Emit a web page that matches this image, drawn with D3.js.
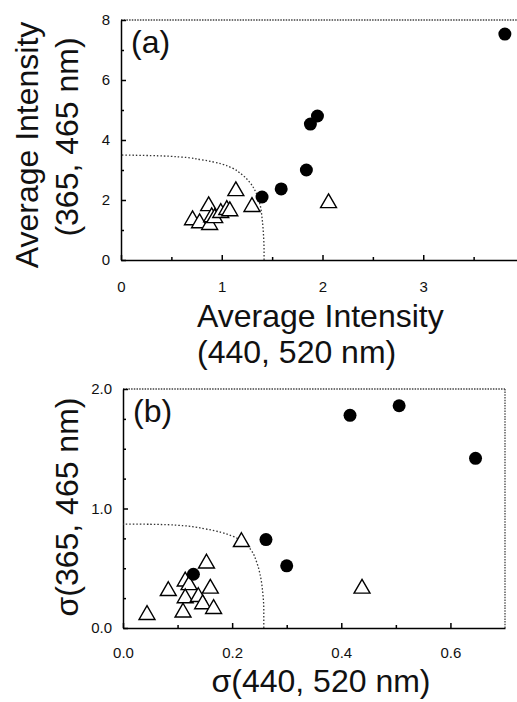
<!DOCTYPE html>
<meta charset="utf-8">
<style>
  body { margin: 0; background: #fff; }
  svg { font-family: Arial, "Liberation Sans", sans-serif; }
  .axis path, .axis line { stroke: #000; stroke-width: 1.5px; }
  .axis text { font-size: 15px; fill: #111; }
  .border { stroke: #444; stroke-width: 1.3px; stroke-dasharray: 1.5,1.2; fill: none; }
  .curve { stroke: #333; stroke-width: 1.3px; stroke-dasharray: 1.5,2; fill: none; }
  .label { font-size: 32px; fill: #111; }
</style>
<svg width="517" height="702"></svg>
<script src="https://d3js.org/d3.v7.min.js"></script>
<script>
  // panel (a): average intensity
  var aCircleX = [3.81, 1.95, 1.88, 1.84, 1.59, 1.40];
  var aCircleY = [7.53, 4.80, 4.53, 3.00, 2.37, 2.10];
  var aTriX = [1.14, 1.30, 2.06, 0.87, 0.71, 0.78, 0.88, 0.90, 0.93, 0.99, 1.05, 1.08];
  var aTriY = [2.30, 1.77, 1.90, 1.80, 1.33, 1.23, 1.17, 1.43, 1.40, 1.57, 1.67, 1.63];
  var aCurve = [[0, 3.5], [0.3, 3.48], [0.6, 3.43], [0.8, 3.34], [1.0, 3.2], [1.1, 3.07],
                [1.2, 2.85], [1.28, 2.58], [1.34, 2.25], [1.38, 1.85], [1.40, 1.4],
                [1.415, 0.8], [1.42, 0.3], [1.42, 0]];

  // panel (b): standard deviation
  var bCircleX = [0.416, 0.506, 0.646, 0.262, 0.300, 0.129];
  var bCircleY = [1.78, 1.86, 1.42, 0.74, 0.52, 0.45];
  var bTriX = [0.217, 0.153, 0.438, 0.083, 0.114, 0.121, 0.160, 0.114, 0.138, 0.146, 0.110, 0.166, 0.044];
  var bTriY = [0.72, 0.54, 0.33, 0.31, 0.39, 0.36, 0.33, 0.25, 0.26, 0.20, 0.13, 0.16, 0.11];
  var bCurve = [[0, 0.87], [0.05, 0.868], [0.1, 0.86], [0.15, 0.83], [0.18, 0.8], [0.2, 0.77],
                [0.22, 0.72], [0.235, 0.65], [0.245, 0.55], [0.252, 0.43], [0.256, 0.3],
                [0.258, 0.15], [0.258, 0]];

  var aXTicks = [0, 1, 2, 3], aXMinor = [0.5, 1.5, 2.5, 3.5];
  var aYTicks = [0, 2, 4, 6, 8], aYMinor = [1, 3, 5, 7];
  var bXTicks = [0, 0.2, 0.4, 0.6], bXMinor = [0.1, 0.3, 0.5];
  var bYTicks = [0, 1, 2], bYMinor = [0.25, 0.5, 0.75, 1.25, 1.5, 1.75];

  var svg = d3.select("svg");

  function panel(o) {
    var g = svg.append("g");
    var x = d3.scaleLinear().domain(o.xd).range(o.xr);
    var y = d3.scaleLinear().domain(o.yd).range(o.yr);

    // dotted top / right frame
    g.append("line").attr("class", "border")
      .attr("x1", x(o.xd[0])).attr("x2", x(o.xd[1]))
      .attr("y1", y(o.yd[1])).attr("y2", y(o.yd[1]));
    g.append("line").attr("class", "border")
      .attr("x1", x(o.xd[1])).attr("x2", x(o.xd[1]))
      .attr("y1", y(o.yd[0])).attr("y2", y(o.yd[1]));

    // minor ticks
    g.append("g").attr("class", "axis").attr("transform", "translate(0," + y(o.yd[0]) + ")")
      .call(d3.axisBottom(x).tickValues(o.xMinor).tickSize(-3).tickFormat(""))
      .select(".domain").remove();
    g.append("g").attr("class", "axis").attr("transform", "translate(" + x(o.xd[0]) + ",0)")
      .call(d3.axisLeft(y).tickValues(o.yMinor).tickSize(-3).tickFormat(""))
      .select(".domain").remove();

    g.append("g").attr("class", "axis").attr("transform", "translate(0," + y(o.yd[0]) + ")")
      .call(d3.axisBottom(x).tickValues(o.xTicks).tickSize(-5).tickSizeOuter(0)
        .tickPadding(o.xPad).tickFormat(o.xFmt));
    g.append("g").attr("class", "axis").attr("transform", "translate(" + x(o.xd[0]) + ",0)")
      .call(d3.axisLeft(y).tickValues(o.yTicks).tickSize(-5).tickSizeOuter(0)
        .tickPadding(11).tickFormat(o.yFmt));

    g.append("path").attr("class", "curve")
      .attr("d", d3.line().x(function(d) { return x(d[0]); }).y(function(d) { return y(d[1]); })
        .curve(d3.curveMonotoneY)(o.curve.slice().reverse()));

    var tri = d3.symbol().type(d3.symbolTriangle).size(110);
    g.selectAll(".tri").data(o.triX).enter().append("path")
      .attr("d", tri)
      .attr("transform", function(d, i) { return "translate(" + x(d) + "," + y(o.triY[i]) + ")"; })
      .attr("fill", "#fff").attr("stroke", "#000").attr("stroke-width", 1.4);

    g.selectAll(".dot").data(o.cX).enter().append("circle")
      .attr("cx", function(d) { return x(d); })
      .attr("cy", function(d, i) { return y(o.cY[i]); })
      .attr("r", 6.5).attr("fill", "#000");

    g.append("text").attr("class", "label").attr("x", o.xr[0] + 10).attr("y", y(o.yd[1]) + 33)
      .text(o.tag);
    return { x: x, y: y };
  }

  panel({
    xd: [0, 4], xr: [121, 524], yd: [0, 8], yr: [260, 20],
    xTicks: aXTicks, xMinor: aXMinor, yTicks: aYTicks, yMinor: aYMinor,
    xFmt: d3.format("d"), yFmt: d3.format("d"), xPad: 21,
    cX: aCircleX, cY: aCircleY, triX: aTriX, triY: aTriY, curve: aCurve, tag: "(a)"
  });
  panel({
    xd: [0, 0.7], xr: [123, 505], yd: [0, 2], yr: [628, 389],
    xTicks: bXTicks, xMinor: bXMinor, yTicks: bYTicks, yMinor: bYMinor,
    xFmt: d3.format(".1f"), yFmt: d3.format(".1f"), xPad: 19,
    cX: bCircleX, cY: bCircleY, triX: bTriX, triY: bTriY, curve: bCurve, tag: "(b)"
  });

  // axis titles
  svg.append("text").attr("class", "label").attr("x", 197).attr("y", 327).text("Average Intensity");
  svg.append("text").attr("class", "label").attr("x", 197).attr("y", 363).text("(440, 520 nm)");
  svg.append("text").attr("class", "label").attr("text-anchor", "middle")
    .attr("transform", "translate(38,145) rotate(-90)").text("Average Intensity");
  svg.append("text").attr("class", "label").attr("text-anchor", "middle")
    .attr("transform", "translate(78,137) rotate(-90)").text("(365, 465 nm)");
  svg.append("text").attr("class", "label").attr("text-anchor", "middle")
    .attr("x", 321).attr("y", 692).text("σ(440, 520 nm)");
  svg.append("text").attr("class", "label").attr("text-anchor", "middle")
    .attr("transform", "translate(78,507) rotate(-90)").text("σ(365, 465 nm)");
</script>
